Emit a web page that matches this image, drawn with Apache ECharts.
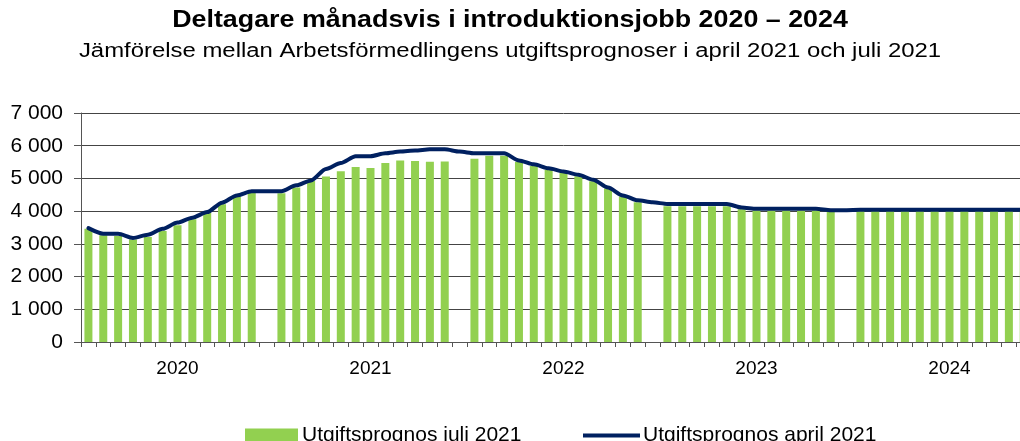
<!DOCTYPE html>
<html>
<head>
<meta charset="utf-8">
<script src="https://cdn.jsdelivr.net/npm/echarts@6/dist/echarts.min.js"></script>
<style>
html,body{margin:0;padding:0;background:#fff;overflow:hidden;width:1020px;height:441px;}
#chart{width:1060px;height:441px;}
</style>
</head>
<body>
<div id="chart"></div>
<script>
// Years (each year group = 12 months + one empty slot)
const years = ['2020', '2021', '2022', '2023', '2024'];
const months = ['jan','feb','mar','apr','maj','jun','jul','aug','sep','okt','nov','dec'];

// Utgiftsprognos juli 2021 (bars), null = empty slot between years
const juli2021 = [
  3460, 3260, 3240, 3130, 3210, 3390, 3570, 3750, 3950, 4210, 4430, 4580, null,
  4550, 4720, 4920, 5060, 5220, 5350, 5320, 5470, 5550, 5530, 5510, 5520, null,
  5600, 5690, 5690, 5500, 5380, 5270, 5190, 5070, 4910, 4690, 4450, 4270, null,
  4150, 4150, 4150, 4150, 4150, 4060, 4020, 4020, 4020, 4020, 4020, 4000, null,
  4010, 4010, 4010, 4010, 4010, 4010, 4010, 4010, 4010, 4010, 4010, 4010, null
];

// Utgiftsprognos april 2021 (line)
const april2021 = [
  3480, 3310, 3310, 3180, 3280, 3460, 3650, 3800, 3970, 4260, 4480, 4610, 4610,
  4610, 4790, 4940, 5290, 5470, 5680, 5680, 5770, 5820, 5850, 5890, 5890, 5820,
  5770, 5770, 5770, 5550, 5430, 5310, 5210, 5110, 4960, 4720, 4480, 4330, 4270,
  4220, 4220, 4220, 4220, 4220, 4110, 4070, 4070, 4070, 4070, 4070, 4030, 4030,
  4040, 4040, 4040, 4040, 4040, 4040, 4040, 4040, 4040, 4040, 4040, 4040, 4040
];

const yTicks = [0, 1000, 2000, 3000, 4000, 5000, 6000, 7000];

const titleText = 'Deltagare månadsvis i introduktionsjobb 2020 – 2024';
const subtitleText = 'Jämförelse mellan Arbetsförmedlingens utgiftsprognoser i april 2021 och juli 2021';

const categories = [];
years.forEach(y => {
  months.forEach(m => categories.push(m + ' ' + y));
  categories.push('tom ' + y);
});

const FONT = '"Liberation Sans", Arial, sans-serif';
const fmt = v => String(v).replace(/\B(?=(\d{3})+(?!\d))/g, ' ');

const chart = echarts.init(document.getElementById('chart'), null, {renderer: 'canvas'});
chart.setOption({
  animation: false,
  backgroundColor: '#fff',
  graphic: [
    {
      type: 'text', x: 510, y: 9, scaleX: 1.167,
      style: {
        text: titleText, fill: '#000',
        font: 'bold 23px ' + FONT,
        textAlign: 'center', textVerticalAlign: 'top',
        align: 'center', verticalAlign: 'top'
      }
    },
    {
      type: 'text', x: 510, y: 41, scaleX: 1.195,
      style: {
        text: subtitleText, fill: '#000',
        font: '20px ' + FONT,
        textAlign: 'center', textVerticalAlign: 'top',
        align: 'center', verticalAlign: 'top'
      }
    }
  ],
  legend: [
    {
      top: 420, left: 240,
      itemWidth: 53, itemHeight: 14, itemGap: 0,
      textStyle: {fontFamily: FONT, fontSize: 21, color: '#000', padding: [0, 0, 0, -1]},
      data: [{name: 'Utgiftsprognos juli 2021', icon: 'rect'}]
    },
    {
      top: 420, left: 578,
      itemWidth: 57, itemHeight: 4, itemGap: 0,
      textStyle: {fontFamily: FONT, fontSize: 21, color: '#000', padding: [0, 0, 0, -2]},
      data: [{name: 'Utgiftsprognos april 2021', icon: 'rect', itemStyle: {color: '#002060'}}]
    }
  ],
  grid: {left: 81, top: 113, width: 965, height: 229, containLabel: false},
  xAxis: {
    type: 'category',
    data: categories,
    boundaryGap: true,
    axisLine: {show: true, lineStyle: {color: '#555', width: 1}},
    axisTick: {show: true, interval: 0, length: 5, lineStyle: {color: '#555'}},
    axisLabel: {
      interval: (i) => i % 13 === 6,
      formatter: (v, i) => years[Math.floor(i / 13)],
      fontFamily: FONT, fontSize: 19, color: '#000', margin: 17
    },
    splitLine: {show: false}
  },
  yAxis: {
    type: 'value',
    min: yTicks[0], max: yTicks[yTicks.length - 1], interval: 1000,
    axisLine: {show: true, lineStyle: {color: '#555', width: 1}},
    axisTick: {show: true, length: 7, lineStyle: {color: '#555'}},
    axisLabel: {formatter: fmt, fontFamily: FONT, fontSize: 21, color: '#000', margin: 18},
    splitLine: {show: true, lineStyle: {color: '#444', width: 1}}
  },
  series: [
    {
      name: 'Utgiftsprognos juli 2021',
      type: 'bar',
      data: juli2021,
      barWidth: 8,
      itemStyle: {color: '#92D050'},
      z: 2
    },
    {
      name: 'Utgiftsprognos april 2021',
      type: 'line',
      data: april2021,
      symbol: 'none',
      showSymbol: false,
      smooth: 0.25,
      smoothMonotone: 'x',
      lineStyle: {color: '#002060', width: 4, cap: 'round', join: 'round'},
      itemStyle: {color: '#002060'},
      z: 3
    }
  ]
});
</script>
</body>
</html>
